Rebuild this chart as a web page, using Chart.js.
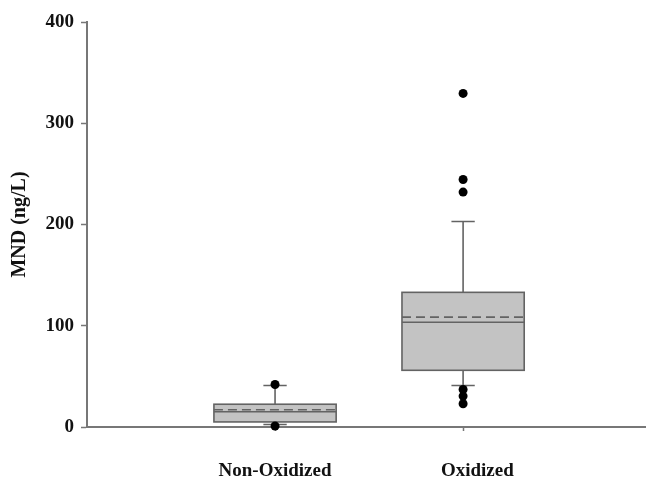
<!DOCTYPE html>
<html>
<head>
<meta charset="utf-8">
<title>MND box plot</title>
<script src="https://cdn.jsdelivr.net/npm/chart.js@4/dist/chart.umd.min.js"></script>
<style>
  html, body { margin: 0; padding: 0; background: #fff; }
  #wrap { width: 650px; height: 479px; position: relative; }
</style>
</head>
<body>
<div id="wrap"><canvas id="chart"></canvas></div>
<script>
// Groups and their box-plot statistics (MND, ng/L)
const categories   = ['Non-Oxidized', 'Oxidized'];
const whiskerLow   = [2.5, 41];
const quartile1    = [5, 56];
const medians      = [15, 103.5];
const means        = [17, 108.5];
const quartile3    = [22.5, 133];
const whiskerHigh  = [41, 203];
const outliers     = [
  [42, 1],
  [329.5, 244.5, 232, 37, 30.5, 23]
];
const yTicks = [0, 100, 200, 300, 400];

// Drawing styles
const BOX_HALF = 0.325;   // half box width, in category units
const CAP_HALF = 0.062;   // half whisker-cap width, in category units
const X_MAX = 2.97;       // right end of the category axis
const LINE = '#636363';
const FILL = '#c3c3c3';
const SERIF = '"Liberation Serif", "Times New Roman", serif';

// Each category sits at integer position 1, 2, ...
const positions = categories.map((_, i) => i + 1);

const outlierPoints = [];
outliers.forEach((vals, i) => vals.forEach(v => outlierPoints.push({ x: positions[i], y: v })));

// Draws boxes, medians, means and whiskers through the chart's scales
const boxPlotPlugin = {
  id: 'boxPlot',
  beforeDatasetsDraw(chart) {
    const { ctx, scales: { x, y } } = chart;
    ctx.save();
    positions.forEach((p, i) => {
      const xl = x.getPixelForValue(p - BOX_HALF);
      const xr = x.getPixelForValue(p + BOX_HALF);
      const xc = x.getPixelForValue(p);
      const cl = x.getPixelForValue(p - CAP_HALF);
      const cr = x.getPixelForValue(p + CAP_HALF);
      const yq1 = y.getPixelForValue(quartile1[i]);
      const yq3 = y.getPixelForValue(quartile3[i]);
      const ymed = y.getPixelForValue(medians[i]);
      const ymean = y.getPixelForValue(means[i]);
      const ywl = y.getPixelForValue(whiskerLow[i]);
      const ywh = y.getPixelForValue(whiskerHigh[i]);

      ctx.lineWidth = 1.6;
      ctx.strokeStyle = LINE;
      ctx.setLineDash([]);

      // whiskers and caps
      ctx.beginPath();
      ctx.moveTo(xc, yq3); ctx.lineTo(xc, ywh);
      ctx.moveTo(cl, ywh); ctx.lineTo(cr, ywh);
      ctx.moveTo(xc, yq1); ctx.lineTo(xc, ywl);
      ctx.moveTo(cl, ywl); ctx.lineTo(cr, ywl);
      ctx.stroke();

      // box
      ctx.fillStyle = FILL;
      ctx.fillRect(xl, yq3, xr - xl, yq1 - yq3);
      ctx.strokeRect(xl, yq3, xr - xl, yq1 - yq3);

      // median (solid)
      ctx.beginPath();
      ctx.moveTo(xl, ymed); ctx.lineTo(xr, ymed);
      ctx.stroke();

      // mean (dashed)
      ctx.setLineDash([9, 5]);
      ctx.beginPath();
      ctx.moveTo(xl, ymean); ctx.lineTo(xr, ymean);
      ctx.stroke();
      ctx.setLineDash([]);
    });
    ctx.restore();
  }
};

new Chart(document.getElementById('chart'), {
  type: 'scatter',
  data: {
    datasets: [{
      label: 'Outliers',
      data: outlierPoints,
      pointRadius: 4.5,
      pointHoverRadius: 4.5,
      pointBackgroundColor: '#000',
      pointBorderColor: '#000',
      pointBorderWidth: 0,
      clip: false
    }]
  },
  options: {
    responsive: true,
    maintainAspectRatio: false,
    animation: false,
    events: [],
    layout: { padding: { top: 22, right: 0, left: 0, bottom: 0 } },
    plugins: {
      legend: { display: false },
      tooltip: { enabled: false }
    },
    scales: {
      x: {
        type: 'linear',
        min: 0,
        max: X_MAX,
        afterBuildTicks(scale) {
          scale.ticks = positions.map(v => ({ value: v }));
        },
        afterFit(scale) { scale.height = 52; },
        border: { display: true, color: '#777', width: 2 },
        grid: { drawOnChartArea: false, tickLength: 4, color: '#777', tickWidth: 1.5 },
        ticks: {
          autoSkip: false,
          maxRotation: 0,
          padding: 29,
          color: '#111',
          font: { family: SERIF, size: 19, weight: 'bold' },
          // the second label sits slightly right of its tick
          callback: (v) => (v === 2 ? '      ' : '') + categories[v - 1]
        }
      },
      y: {
        min: 0,
        max: 400,
        afterBuildTicks(scale) {
          scale.ticks = yTicks.map(v => ({ value: v }));
        },
        afterFit(scale) { scale.width = 87; },
        border: { display: true, color: '#777', width: 2 },
        grid: { drawOnChartArea: false, tickLength: 6, color: '#777', tickWidth: 1.5 },
        ticks: {
          padding: 7,
          color: '#111',
          font: { family: SERIF, size: 19, weight: 'bold' }
        },
        title: {
          display: true,
          text: 'MND (ng/L)',
          color: '#111',
          padding: { top: 8, bottom: 0 },
          font: { family: SERIF, size: 20, weight: 'bold' }
        }
      }
    }
  },
  plugins: [boxPlotPlugin]
});
</script>
</body>
</html>
